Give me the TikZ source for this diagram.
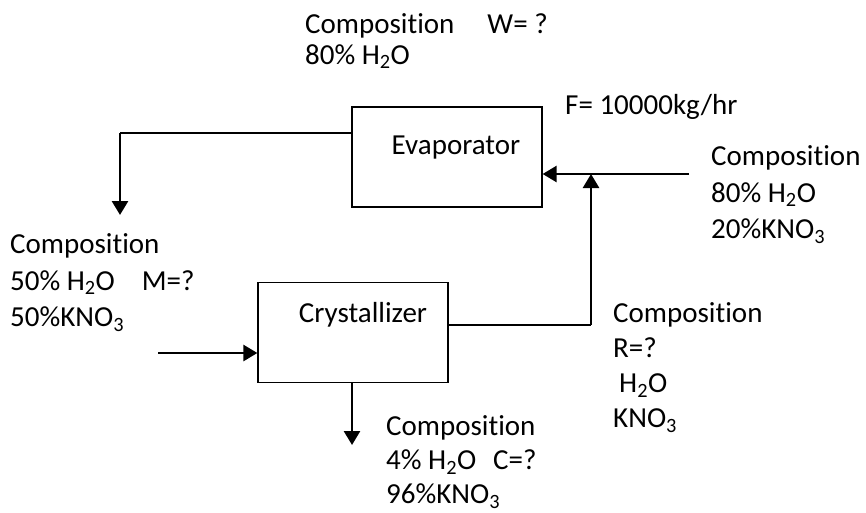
\documentclass[tikz,border=0pt]{standalone}
\usepackage{fontspec}
\setmainfont{Carlito}[Ligatures=NoCommon]
\usetikzlibrary{arrows.meta,positioning}
\tikzset{
  every node/.append style={font=\fontsize{29}{35}\selectfont},
  unit/.style={draw, line width=1.2pt, minimum width=190pt, minimum height=100pt, inner sep=0pt},
  stream/.style={line width=1.2pt},
  feed/.style={line width=2.6pt, -{Triangle[width=16pt,length=14pt]}},
  info/.style={align=left, anchor=north west, inner sep=0pt},
}

\begin{document}
\begin{tikzpicture}[x=1pt, y=-1pt]
    \useasboundingbox (0,0) rectangle (866,513);
    % units
    \node[unit] (evap) at (447,157) {};
    \node[anchor=base, inner sep=0pt] (evaplbl) at (456,155) {Evaporator};
    \node[unit] (cryst) at (353,332.5) {};
    \node[anchor=base, inner sep=0pt] (crystlbl) at (363,322) {Crystallizer};
    % streams
    \coordinate (fsrc) at (689,174);
    \coordinate (wturn) at (120,133);
    \coordinate (wend) at (120,215);
    \coordinate (rturn) at (591,325);
    \coordinate (msrc) at (158,353);
    \coordinate (cend) at (352,445);
    \draw[feed] (fsrc) -- (evap.east |- fsrc);
    \draw[stream] (evap.west |- wturn) -- (wturn);
    \draw[feed] (wturn) -- (wend);
    \draw[stream] (cryst.east |- rturn) -- (rturn);
    \draw[feed] (rturn) -- (rturn |- fsrc);
    \draw[feed] (msrc) -- (cryst.west |- msrc);
    \draw[feed] (cryst.south -| cend) -- (cend);
    % compositions
    \node[info, font=\fontsize{29}{31}\selectfont] (wlbl) at (305,13)
        {Composition\hspace{33pt}W= ?\\80\% H\textsubscript{2}O};
    \node[anchor=base west, inner sep=0pt] (flbl) at (565,115) {F= 10000kg/hr};
    \node[info, font=\fontsize{29}{36.5}\selectfont] (feedlbl) at (711,145.5)
        {Composition\\80\% H\textsubscript{2}O\\20\%KNO\textsubscript{3}};
    \node[info, font=\fontsize{29}{36.5}\selectfont] (mlbl) at (10,233.5)
        {Composition\\50\% H\textsubscript{2}O\hspace{27pt}M=?\\50\%KNO\textsubscript{3}};
    \node[info] (rlbl) at (613,302.5)
        {Composition\\R=?\\\hspace{6pt}H\textsubscript{2}O\\KNO\textsubscript{3}};
    \node[info, font=\fontsize{29}{34}\selectfont] (clbl) at (386,415.5)
        {Composition\\4\% H\textsubscript{2}O\hspace{17pt}C=?\\96\%KNO\textsubscript{3}};
\end{tikzpicture}
\end{document}
